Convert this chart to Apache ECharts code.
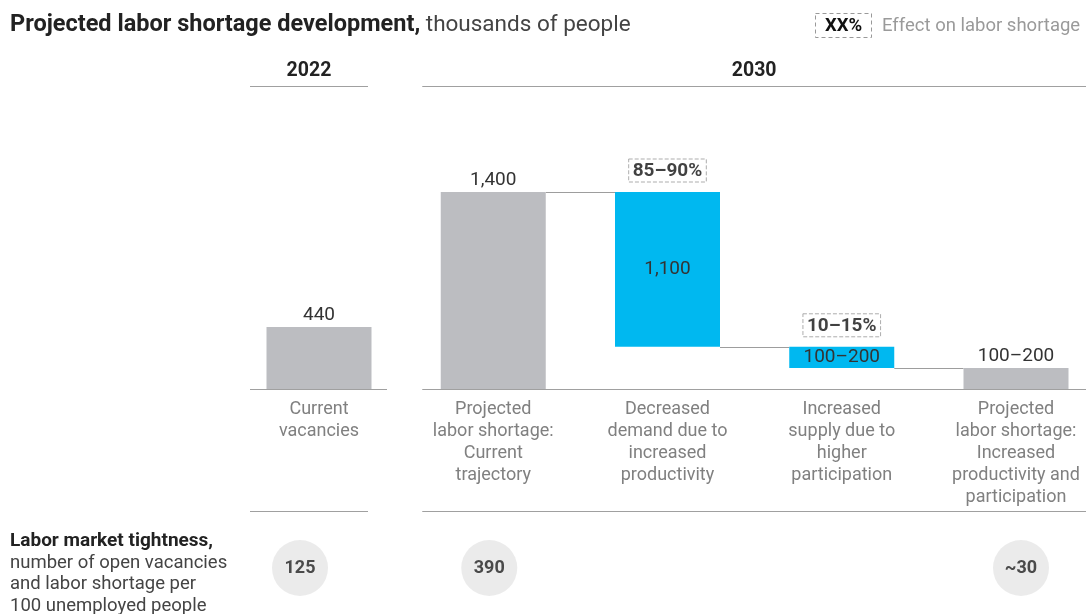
<!DOCTYPE html>
<html>
<head>
<meta charset="utf-8">
<script src="https://cdn.jsdelivr.net/npm/echarts@6/dist/echarts.min.js"></script>
<style>
  html, body { margin: 0; padding: 0; background: #fff; }
  #chart { width: 1092px; height: 614px; }
</style>
</head>
<body>
<div id="chart"></div>
<script>
// Waterfall: labor shortage, thousands of people
const categories = [
  'Current\nvacancies',
  'Projected\nlabor shortage:\nCurrent\ntrajectory',
  'Decreased\ndemand due to\nincreased\nproductivity',
  'Increased\nsupply due to\nhigher\nparticipation',
  'Projected\nlabor shortage:\nIncreased\nproductivity and\nparticipation'
];
const baseValues = [0, 0, 300, 150, 0];          // invisible floor of each bar
const barValues = [440, 1400, 1100, 150, 150];   // visible bar height
const valueLabels = ['440', '1,400', '1,100', '100–200', '100–200'];
const effectLabels = ['', '', '85–90%', '10–15%', ''];
const isChange = [false, false, true, true, false];
const tightness = ['125', '390', '', '', '~30'];
const tightnessShift = [-19, -4, 0, 0, 5];

const FONT = 'Roboto, "Liberation Sans", sans-serif';
const GRAY_BAR = '#bcbdc1';
const BLUE = '#00b8f0';
const RULE = '#a0a0a0';
const BAR_W = 105;

const chart = echarts.init(document.getElementById('chart'), null, { renderer: 'canvas' });

const option = {
  animation: false,
  backgroundColor: '#ffffff',
  title: {
    left: 5, top: 8,
    text: '{b|Projected labor shortage development,}{r| thousands of people}',
    textStyle: {
      rich: {
        b: { fontFamily: FONT, fontSize: 23.5, fontWeight: 'bold', color: '#222' },
        r: { fontFamily: FONT, fontSize: 22.5, fontWeight: 'normal', color: '#444' }
      }
    }
  },
  grid: [
    { left: 319, right: 76, top: 192, bottom: 225 },
    { left: 319, right: 76, top: 540, height: 56 }
  ],
  xAxis: [
    {
      type: 'category', gridIndex: 0, data: categories, boundaryGap: false,
      axisLine: { show: false }, axisTick: { show: false },
      axisLabel: {
        interval: 0, margin: 9, fontFamily: FONT, fontSize: 18, lineHeight: 22,
        color: '#808080', align: 'center', verticalAlign: 'top'
      },
      splitLine: { show: false }
    },
    {
      type: 'category', gridIndex: 1, data: categories, boundaryGap: false,
      show: false
    }
  ],
  yAxis: [
    { type: 'value', gridIndex: 0, min: 0, max: 1400, show: false, splitLine: { show: false } },
    { type: 'value', gridIndex: 1, min: 0, max: 1, show: false, splitLine: { show: false } }
  ],
  series: [
    {
      name: 'base', type: 'bar', stack: 'w', barWidth: BAR_W,
      xAxisIndex: 0, yAxisIndex: 0,
      itemStyle: { color: 'transparent' },
      emphasis: { disabled: true },
      data: baseValues
    },
    {
      name: 'value', type: 'bar', stack: 'w', barWidth: BAR_W,
      xAxisIndex: 0, yAxisIndex: 0,
      data: barValues.map((v, i) => ({
        value: v,
        itemStyle: { color: isChange[i] ? BLUE : GRAY_BAR },
        label: {
          show: true,
          position: isChange[i] ? 'inside' : 'top',
          distance: 2,
          formatter: valueLabels[i],
          fontFamily: FONT, fontSize: 19, color: '#333'
        }
      }))
    },
    {
      name: 'effect', type: 'scatter', symbolSize: 0,
      xAxisIndex: 0, yAxisIndex: 0,
      data: effectLabels.map((t, i) => t ? {
        value: baseValues[i] + barValues[i],
        label: {
          show: true, position: 'top', distance: 10,
          formatter: t,
          fontFamily: FONT, fontSize: 19, fontWeight: 'bold', color: '#111',
          borderType: 'dashed', borderColor: '#999', borderWidth: 1,
          padding: [3, 4, 1, 4]
        }
      } : null)
    },
    {
      name: 'tightness', type: 'scatter', symbol: 'circle', symbolSize: 56,
      xAxisIndex: 1, yAxisIndex: 1,
      itemStyle: { color: '#e6e6e6' },
      data: tightness.map((t, i) => t ? {
        value: 0.5,
        symbolOffset: [tightnessShift[i], 0],
        label: {
          show: true, position: 'inside', formatter: t,
          fontFamily: FONT, fontSize: 18, fontWeight: 'bold', color: '#222'
        }
      } : null)
    }
  ]
};

chart.setOption(option);

// Rules, connectors, headers and side notes placed from the axis scale
function px(i, v) { return chart.convertToPixel({ xAxisIndex: 0, yAxisIndex: 0 }, [i, v]); }
const yBase = px(0, 0)[1];
const c = categories.map((_, i) => px(i, 0)[0]);

const elements = [];
function hline(x1, x2, y, color) {
  elements.push({
    type: 'line', silent: true,
    shape: { x1: x1, y1: y, x2: x2, y2: y },
    style: { stroke: color || RULE, lineWidth: 1.2 }
  });
}
const y2022 = { from: c[0] - 69, to: c[0] + 49 };
const y2030 = { from: c[1] - 71, to: c[4] + 70 };

// baseline pieces
hline(c[0] - 69, c[0] + 68, yBase + 0.5);
hline(y2030.from, y2030.to, yBase + 0.5);
// header and footer rules
[86.5, 511.5].forEach(y => {
  hline(y2022.from, y2022.to, y);
  hline(y2030.from, y2030.to, y);
});
// connectors between 2030 bars
for (let i = 1; i < categories.length - 1; i++) {
  const level = baseValues[i + 1] + barValues[i + 1];
  const y = Math.round(px(i, level)[1]) + 0.5;
  hline(c[i] + BAR_W / 2, c[i + 1] - BAR_W / 2, y, '#9d9d9d');
}
// year headers
[['2022', y2022], ['2030', y2030]].forEach(([t, r]) => {
  elements.push({
    type: 'text', silent: true,
    style: {
      text: t, x: (r.from + r.to) / 2, y: 71, align: 'center', verticalAlign: 'middle',
      font: 'bold 19.5px ' + FONT, fill: '#222'
    }
  });
});
// legend for the dashed effect boxes
elements.push({
  type: 'rect', silent: true,
  shape: { x: 815.5, y: 13.5, width: 56, height: 24 },
  style: { fill: 'none', stroke: '#999', lineWidth: 1, lineDash: [4, 3] }
});
elements.push({
  type: 'text', silent: true,
  style: { text: 'XX%', x: 843.5, y: 26, align: 'center', verticalAlign: 'middle',
    font: 'bold 18.5px ' + FONT, fill: '#111' }
});
elements.push({
  type: 'text', silent: true,
  style: { text: 'Effect on labor shortage', x: 882, y: 26, align: 'left', verticalAlign: 'middle',
    font: '18.5px ' + FONT, fill: '#9a9a9a' }
});
// row caption for the tightness circles
elements.push({
  type: 'text', silent: true,
  style: {
    x: 10, y: 530.5, align: 'left', verticalAlign: 'top',
    text: '{b|Labor market tightness,}\n{r|number of open vacancies}\n{r|and labor shortage per}\n{r|100 unemployed people}',
    rich: {
      b: { font: 'bold 19px ' + FONT, fill: '#222', lineHeight: 21.7 },
      r: { font: '18.5px ' + FONT, fill: '#444', lineHeight: 21.7 }
    }
  }
});

chart.setOption({ graphic: { elements: elements } });
</script>
</body>
</html>
